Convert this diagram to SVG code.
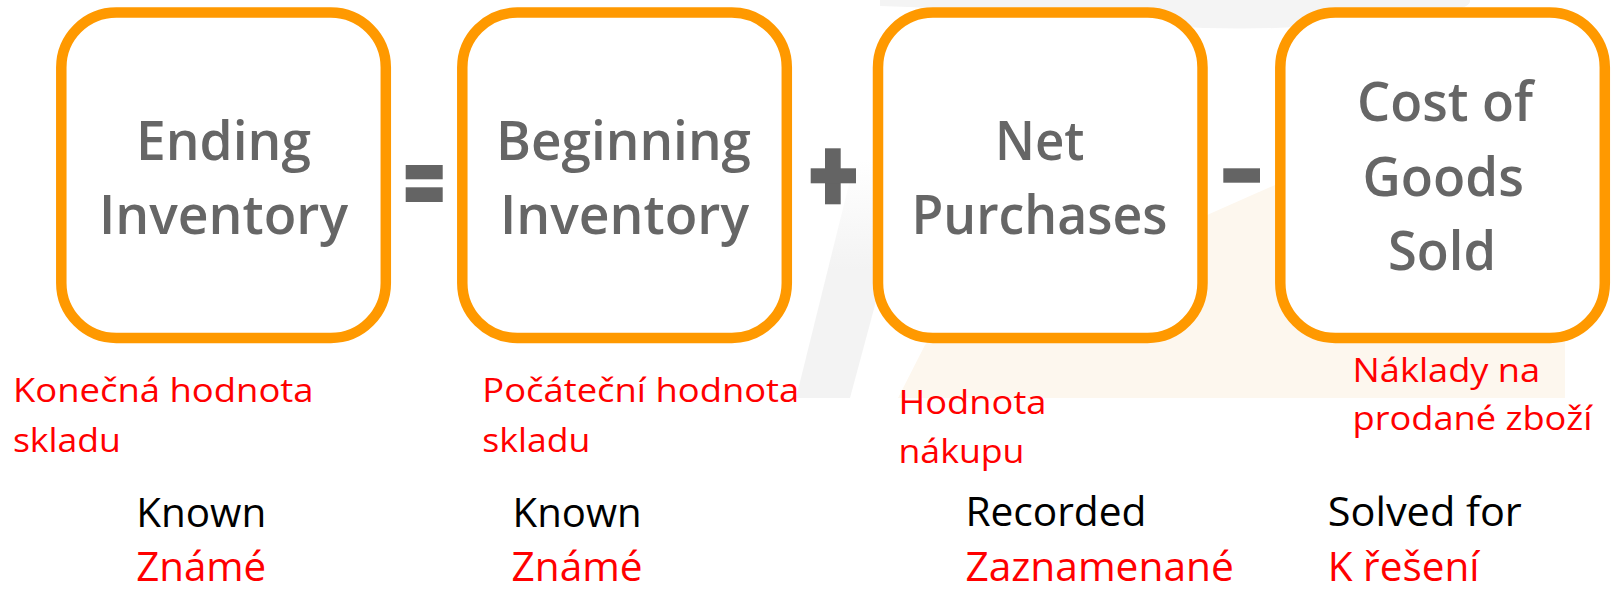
<svg xmlns="http://www.w3.org/2000/svg" width="1612" height="591" viewBox="0 0 1612 591">
<defs>
<linearGradient id="bandFade" x1="0" y1="160" x2="0" y2="270" gradientUnits="userSpaceOnUse">
<stop offset="0" stop-color="#f3f3f3" stop-opacity="0"/>
<stop offset="1" stop-color="#f3f3f3" stop-opacity="1"/>
</linearGradient>
<style>
.box{fill:#ffffff;stroke:#ff9900;stroke-width:10.5}
.bt{font-family:"Open Sans","Liberation Sans",sans-serif;font-weight:600;font-size:54px;fill:#666666}
.op{fill:#646464}
.red{font-family:"Open Sans","Liberation Sans",sans-serif;font-size:33px;fill:#ff0000}
.big{font-family:"Open Sans","Liberation Sans",sans-serif;font-size:40px}
.blk{fill:#000000}
.rd{fill:#ff0000}
</style>
</defs>
<rect x="0" y="0" width="1612" height="591" fill="#ffffff"/>
<g id="watermark">
<path d="M880,0 L1470,0 Q1472,8 1440,13 Q1260,40 1100,20 Q960,8 880,6 Z" fill="#f4f4f4"/>
<path d="M898,398 L925,345 Q1000,262 1207,215 L1275,185 Q1450,150 1565,140 L1565,398 Z" fill="#fdf7ee"/>
<polygon points="855,160 914,160 850,398 796,398" fill="url(#bandFade)"/>
</g>
<g id="node-ending">
<rect class="box" x="61.3" y="12.5" width="324.5" height="325.5" rx="55"/>
<text class="bt" x="136" y="160" textLength="175" lengthAdjust="spacingAndGlyphs">Ending</text>
<text class="bt" x="99" y="233.5" textLength="249" lengthAdjust="spacingAndGlyphs">Inventory</text>
</g>
<g id="node-beginning">
<rect class="box" x="462.3" y="12.5" width="324.5" height="325.5" rx="55"/>
<text class="bt" x="496" y="160" textLength="255" lengthAdjust="spacingAndGlyphs">Beginning</text>
<text class="bt" x="500" y="233.5" textLength="249" lengthAdjust="spacingAndGlyphs">Inventory</text>
</g>
<g id="node-purchases">
<rect class="box" x="878" y="12.5" width="324.5" height="325.5" rx="55"/>
<text class="bt" x="995" y="160" textLength="89.5" lengthAdjust="spacingAndGlyphs">Net</text>
<text class="bt" x="911.5" y="233.5" textLength="256" lengthAdjust="spacingAndGlyphs">Purchases</text>
</g>
<g id="node-cogs">
<rect class="box" x="1280.3" y="12.5" width="324.5" height="325.5" rx="55"/>
<text class="bt" x="1357" y="121" textLength="176" lengthAdjust="spacingAndGlyphs">Cost of</text>
<text class="bt" x="1362.5" y="195.5" textLength="161.5" lengthAdjust="spacingAndGlyphs">Goods</text>
<text class="bt" x="1388" y="269.5" textLength="108" lengthAdjust="spacingAndGlyphs">Sold</text>
</g>
<g id="operators">
<rect class="op" x="405.7" y="165" width="37" height="14.3"/>
<rect class="op" x="405.7" y="187.3" width="37" height="14.7"/>
<rect class="op" x="825" y="148.3" width="15.7" height="56"/>
<rect class="op" x="810.7" y="168.3" width="45.3" height="15"/>
<rect class="op" x="1223.3" y="168.3" width="36.7" height="14.4"/>
</g>
<g id="labels">
<text class="red" x="12.9" y="401.7" textLength="300.7" lengthAdjust="spacingAndGlyphs">Konečná hodnota</text>
<text class="red" x="12.9" y="451.7" textLength="108" lengthAdjust="spacingAndGlyphs">skladu</text>
<text class="red" x="482.3" y="401.7" textLength="317" lengthAdjust="spacingAndGlyphs">Počáteční hodnota</text>
<text class="red" x="482.3" y="451.7" textLength="108" lengthAdjust="spacingAndGlyphs">skladu</text>
<text class="red" x="898.5" y="414" textLength="148" lengthAdjust="spacingAndGlyphs">Hodnota</text>
<text class="red" x="898.5" y="463.3" textLength="126" lengthAdjust="spacingAndGlyphs">nákupu</text>
<text class="red" x="1352.5" y="381.7" textLength="187.7" lengthAdjust="spacingAndGlyphs">Náklady na</text>
<text class="red" x="1352.5" y="430" textLength="240" lengthAdjust="spacingAndGlyphs">prodané zboží</text>
<text class="big blk" x="136.2" y="527" textLength="130" lengthAdjust="spacingAndGlyphs">Known</text>
<text class="big blk" x="512.6" y="527" textLength="129" lengthAdjust="spacingAndGlyphs">Known</text>
<text class="big blk" x="965.4" y="526" textLength="181" lengthAdjust="spacingAndGlyphs">Recorded</text>
<text class="big blk" x="1327.8" y="526" textLength="194" lengthAdjust="spacingAndGlyphs">Solved for</text>
<text class="big rd" x="136.2" y="581" textLength="130" lengthAdjust="spacingAndGlyphs">Známé</text>
<text class="big rd" x="511.6" y="581" textLength="131" lengthAdjust="spacingAndGlyphs">Známé</text>
<text class="big rd" x="965.4" y="581" textLength="268.4" lengthAdjust="spacingAndGlyphs">Zaznamenané</text>
<text class="big rd" x="1327.8" y="581" textLength="151.7" lengthAdjust="spacingAndGlyphs">K řešení</text>
</g>
</svg>
